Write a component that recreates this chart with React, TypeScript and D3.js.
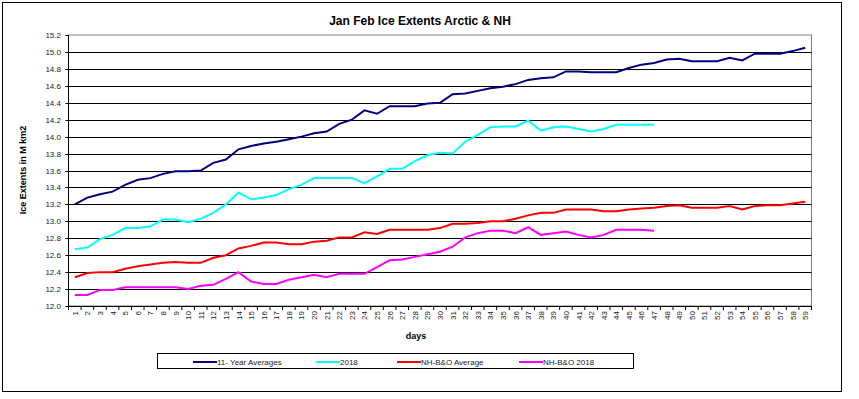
import React, { useEffect, useRef } from 'react';
import * as d3 from 'd3';

const days = d3.range(1, 60);
const yTicks = [12.0, 12.2, 12.4, 12.6, 12.8, 13.0, 13.2, 13.4, 13.6, 13.8, 14.0, 14.2, 14.4, 14.6, 14.8, 15.0, 15.2];

const avg11 = [13.20, 13.28, 13.32, 13.35, 13.43, 13.49, 13.51, 13.56, 13.59, 13.59,
  13.60, 13.69, 13.73, 13.85, 13.89, 13.92, 13.94, 13.97, 14.00, 14.04,
  14.06, 14.15, 14.20, 14.31, 14.27, 14.36, 14.36, 14.36, 14.39, 14.40,
  14.50, 14.51, 14.54, 14.57, 14.59, 14.62, 14.67, 14.69, 14.70, 14.77,
  14.77, 14.76, 14.76, 14.76, 14.81, 14.85, 14.87, 14.91, 14.92, 14.89,
  14.89, 14.89, 14.93, 14.90, 14.98, 14.98, 14.98, 15.01, 15.05];

const y2018 = [12.67, 12.69, 12.79, 12.84, 12.92, 12.92, 12.94, 13.02, 13.02, 12.99,
  13.03, 13.10, 13.20, 13.34, 13.26, 13.28, 13.31, 13.38, 13.43, 13.51,
  13.51, 13.51, 13.51, 13.45, 13.53, 13.62, 13.62, 13.71, 13.78, 13.81,
  13.80, 13.94, 14.02, 14.11, 14.12, 14.12, 14.19, 14.07, 14.11, 14.12,
  14.09, 14.06, 14.09, 14.14, 14.14, 14.14, 14.14];

const nhAvg = [12.34, 12.39, 12.40, 12.40, 12.44, 12.47, 12.49, 12.51, 12.52, 12.51,
  12.51, 12.57, 12.60, 12.68, 12.71, 12.75, 12.75, 12.73, 12.73, 12.76,
  12.77, 12.81, 12.81, 12.87, 12.85, 12.90, 12.90, 12.90, 12.90, 12.92,
  12.97, 12.97, 12.98, 13.00, 13.00, 13.03, 13.07, 13.10, 13.10, 13.14,
  13.14, 13.14, 13.12, 13.12, 13.14, 13.15, 13.16, 13.18, 13.19, 13.16,
  13.16, 13.16, 13.18, 13.14, 13.18, 13.19, 13.19, 13.21, 13.23];

const nh2018 = [12.13, 12.13, 12.19, 12.19, 12.22, 12.22, 12.22, 12.22, 12.22, 12.20,
  12.24, 12.25, 12.32, 12.40, 12.29, 12.26, 12.26, 12.31, 12.34, 12.37,
  12.34, 12.38, 12.38, 12.38, 12.46, 12.54, 12.55, 12.58, 12.61, 12.64,
  12.70, 12.81, 12.86, 12.89, 12.89, 12.86, 12.93, 12.84, 12.86, 12.88,
  12.84, 12.81, 12.84, 12.90, 12.90, 12.90, 12.89];

const seriesNames = ['11- Year Averages', '2018', 'NH-B&O Average', 'NH-B&O 2018'];
const seriesColors = ['#000080', '#00FFFF', '#FF0000', '#FF00FF'];
const seriesValues = [avg11, y2018, nhAvg, nh2018];

const FONT = 'Liberation Sans, Arial, sans-serif';

export default function App() {
  const ref = useRef<SVGSVGElement>(null);

  useEffect(() => {
    const svg = d3.select(ref.current);
    svg.selectAll('*').remove();

    const left = 68.5, right = 811.5, top = 35, bottom = 306;

    // frame
    svg.append('rect')
      .attr('x', 2.5).attr('y', 2.5).attr('width', 839).attr('height', 389)
      .attr('fill', '#fff').attr('stroke', '#000').attr('stroke-width', 1);

    svg.append('text')
      .attr('x', 420).attr('y', 25)
      .attr('text-anchor', 'middle')
      .style('font-family', FONT).style('font-size', '12px').style('font-weight', 'bold')
      .text('Jan Feb Ice Extents Arctic & NH');

    const x = d3.scaleBand<number>().domain(days).range([left, right]).padding(0);
    const y = d3.scaleLinear().domain([12, 15.2]).range([bottom, top]);
    const cx = (d: number) => (x(d) as number) + x.bandwidth() / 2;

    const chart = svg.append('g');

    // plot border (gray)
    chart.append('rect')
      .attr('x', left).attr('y', top).attr('width', right - left).attr('height', bottom - top)
      .attr('fill', '#fff').attr('stroke', '#808080');

    // grid lines
    chart.selectAll('.grid')
      .data(yTicks.slice(1, -1))
      .enter().append('line')
      .attr('x1', left).attr('x2', right)
      .attr('y1', (d) => Math.round(y(d)) + 0.5).attr('y2', (d) => Math.round(y(d)) + 0.5)
      .attr('stroke', '#000');

    // y axis
    chart.append('line')
      .attr('x1', left).attr('x2', left).attr('y1', top).attr('y2', bottom)
      .attr('stroke', '#000');
    chart.selectAll('.ytick')
      .data(yTicks)
      .enter().append('line')
      .attr('x1', left - 3).attr('x2', left)
      .attr('y1', (d) => Math.round(y(d)) + 0.5).attr('y2', (d) => Math.round(y(d)) + 0.5)
      .attr('stroke', '#000');
    chart.selectAll('.ylab')
      .data(yTicks)
      .enter().append('text')
      .attr('x', 61).attr('y', (d) => y(d) + 3)
      .attr('text-anchor', 'end')
      .style('font-family', FONT).style('font-size', '8px').style('fill', '#222')
      .text((d) => d.toFixed(1));

    // x axis
    chart.append('line')
      .attr('x1', left).attr('x2', right).attr('y1', bottom + 0.5).attr('y2', bottom + 0.5)
      .attr('stroke', '#000');
    chart.selectAll('.xtick')
      .data(days.concat([60]))
      .enter().append('line')
      .attr('x1', (d) => (d === 60 ? right : (x(d) as number)))
      .attr('x2', (d) => (d === 60 ? right : (x(d) as number)))
      .attr('y1', bottom).attr('y2', bottom + 4)
      .attr('stroke', '#000');
    chart.selectAll('.xlab')
      .data(days)
      .enter().append('text')
      .attr('transform', (d) => `translate(${cx(d) + 3},311) rotate(-90)`)
      .attr('text-anchor', 'end')
      .style('font-family', FONT).style('font-size', '8px').style('fill', '#222')
      .text((d) => String(d));

    svg.append('text')
      .attr('x', 416).attr('y', 339)
      .attr('text-anchor', 'middle')
      .style('font-family', FONT).style('font-size', '9px').style('font-weight', 'bold')
      .text('days');

    svg.append('text')
      .attr('transform', 'translate(26,170) rotate(-90)')
      .attr('text-anchor', 'middle')
      .style('font-family', FONT).style('font-size', '9px').style('font-weight', 'bold')
      .text('Ice Extents in M km2');

    // series
    const line = d3.line<number>()
      .curve(d3.curveLinear)
      .x((d, i) => cx(days[i]))
      .y((d) => y(d));

    seriesValues.forEach((vals, i) => {
      chart.append('path')
        .attr('d', line(vals))
        .attr('fill', 'none')
        .attr('stroke', seriesColors[i])
        .attr('stroke-width', 2);
    });

    // legend
    const legend = svg.append('g');
    legend.append('rect')
      .attr('x', 157.5).attr('y', 353.5).attr('width', 476).attr('height', 15)
      .attr('fill', '#fff').attr('stroke', '#000');
    const legendX = [193, 316, 397, 519];
    seriesNames.forEach((name, i) => {
      legend.append('line')
        .attr('x1', legendX[i]).attr('x2', legendX[i] + 24)
        .attr('y1', 362).attr('y2', 362)
        .attr('stroke', seriesColors[i]).attr('stroke-width', 2);
      legend.append('text')
        .attr('x', legendX[i] + 24).attr('y', 364.5)
        .style('font-family', FONT).style('font-size', '8px').style('fill', '#222')
        .text(name);
    });
  }, []);

  return (
    <div style={{ position: 'absolute', left: 0, top: 0, background: '#fff' }}>
      <svg ref={ref} width={859} height={399} />
    </div>
  );
}
